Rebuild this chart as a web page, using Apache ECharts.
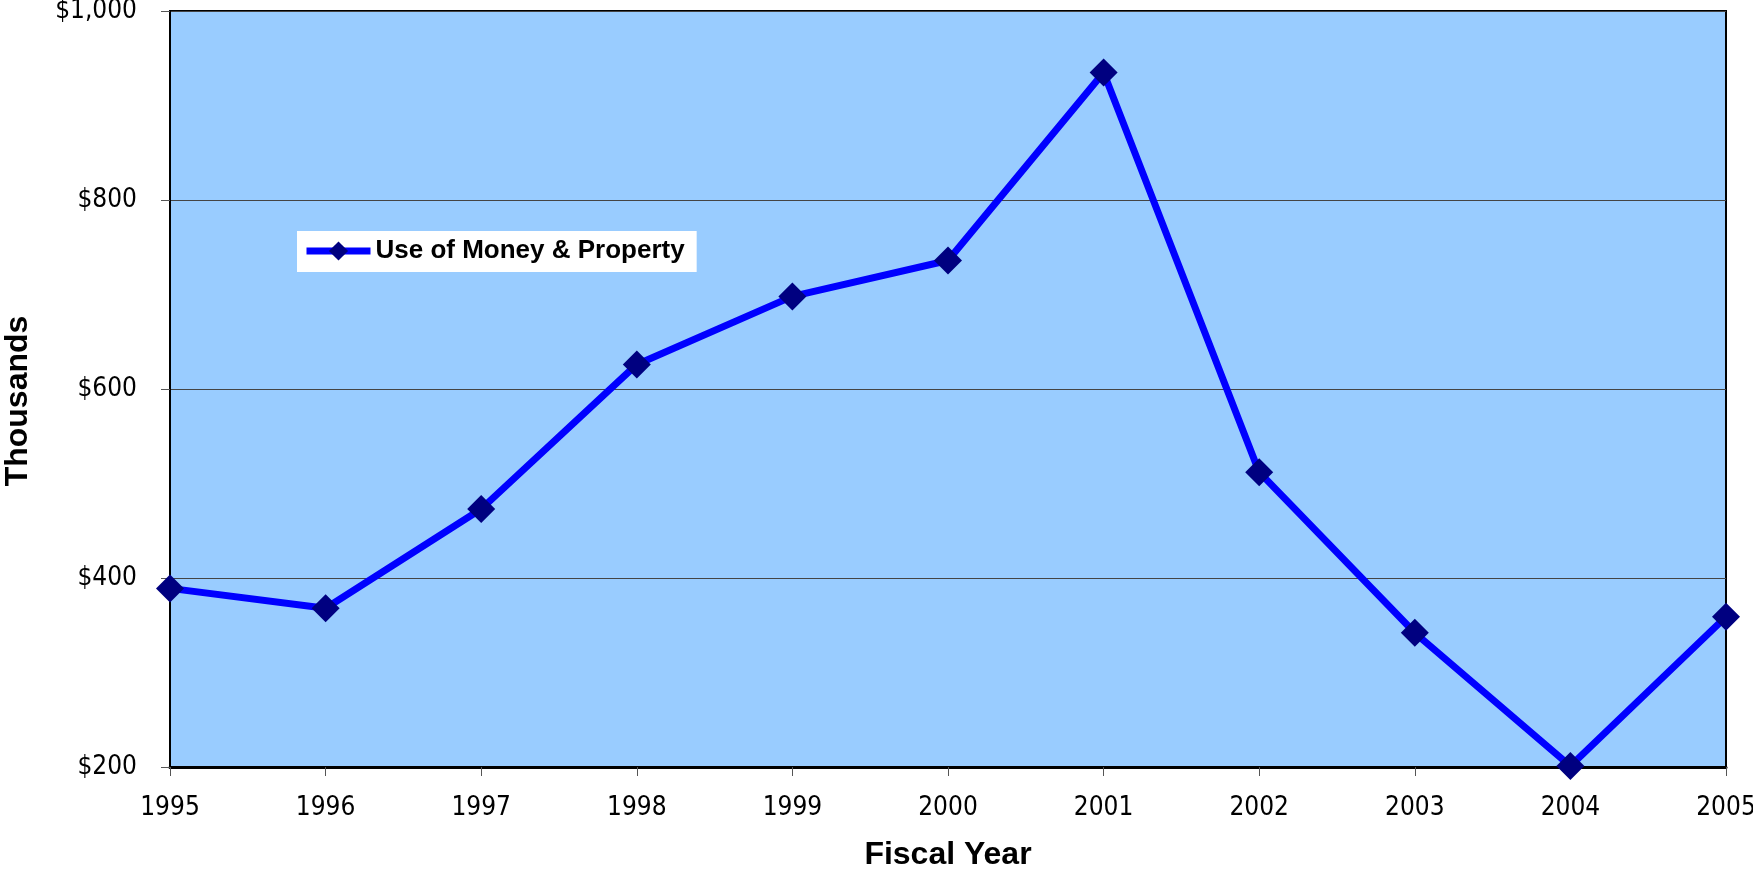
<!DOCTYPE html>
<html>
<head>
<meta charset="utf-8">
<title>Use of Money & Property</title>
<script src="https://cdn.jsdelivr.net/npm/echarts@6/dist/echarts.min.js"></script>
<style>
  html, body { margin: 0; padding: 0; background: #fff; }
  #chart { width: 1753px; height: 869px; }
</style>
</head>
<body>
<div id="chart"></div>
<script>
// data (thousands of dollars)
const years = ['1995', '1996', '1997', '1998', '1999', '2000', '2001', '2002', '2003', '2004', '2005']
const useOfMoney = [389, 368, 473, 626, 698, 736, 935, 512, 342, 201, 359]
const seriesName = 'Use of Money & Property'

const tickFont = '"DejaVu Sans Condensed", "DejaVu Sans", sans-serif'
const boldFont = '"Liberation Sans", Arial, sans-serif'

const chart = echarts.init(document.getElementById('chart'))

chart.setOption({
  animation: false,
  grid: {
    left: 170,
    right: 27,
    top: 11,
    bottom: 102,
    outerBoundsMode: 'none', // keep the plot box where it is, labels may sit near the edge
    show: true,
    backgroundColor: '#99CCFF',
    borderColor: '#000',
    borderWidth: 2,
  },
  legend: {
    data: [seriesName],
    left: 297,
    top: 231,
    orient: 'horizontal',
    backgroundColor: '#fff',
    padding: [6, 12, 7, 6],
    itemWidth: 64,
    itemHeight: 24,
    itemGap: 0,
    lineStyle: { width: 7, color: '#0000FF' },
    textStyle: {
      fontFamily: boldFont,
      fontWeight: 'bold',
      fontSize: 26,
      lineHeight: 28,
      color: '#000',
    },
  },
  xAxis: {
    type: 'category',
    data: years,
    boundaryGap: false,
    name: 'Fiscal Year',
    nameLocation: 'middle',
    nameGap: 72,
    nameTextStyle: {
      fontFamily: boldFont,
      fontWeight: 'bold',
      fontSize: 32,
      color: '#000',
    },
    axisLine: { lineStyle: { color: '#000', width: 3 } },
    axisTick: { alignWithLabel: true, length: 9, lineStyle: { color: '#555', width: 1 } },
    axisLabel: {
      margin: 28,
      fontFamily: tickFont,
      fontSize: 26,
      color: '#000',
    },
    splitLine: { show: false },
  },
  yAxis: {
    type: 'value',
    min: 200,
    max: 1000,
    interval: 200,
    axisLine: { show: true, lineStyle: { color: '#000', width: 2 } },
    axisTick: { show: true, length: 9, lineStyle: { color: '#555', width: 1 } },
    axisLabel: {
      margin: 33,
      fontFamily: tickFont,
      fontSize: 26,
      color: '#000',
      formatter: (v) => '$' + v.toLocaleString('en-US'),
    },
    splitLine: { show: true, lineStyle: { color: '#444', width: 1 } },
  },
  graphic: [
    {
      type: 'text',
      x: 18,
      y: 401,
      rotation: Math.PI / 2,
      style: {
        text: 'Thousands',
        fontFamily: boldFont,
        fontWeight: 'bold',
        fontSize: 32,
        fill: '#000',
        align: 'center',
        verticalAlign: 'middle',
      },
    },
  ],
  series: [
    {
      name: seriesName,
      type: 'line',
      data: useOfMoney,
      symbol: 'diamond',
      symbolSize: 28,
      showAllSymbol: true,
      lineStyle: { color: '#0000FF', width: 7 },
      itemStyle: { color: '#000080', borderWidth: 0 },
      z: 3,
    },
  ],
})
</script>
</body>
</html>
